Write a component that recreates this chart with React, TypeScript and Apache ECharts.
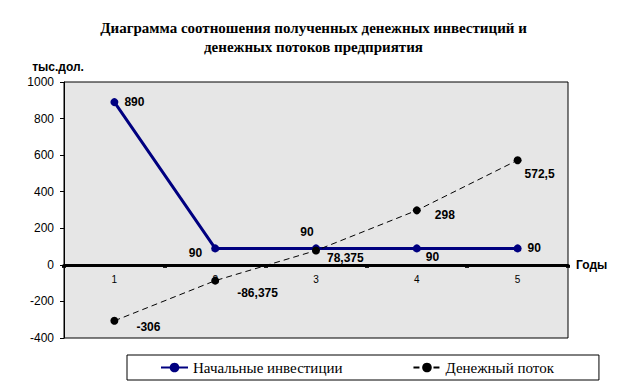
import React, { useEffect, useRef } from "react";
import * as echarts from "echarts";

const titleLines = [
  "Диаграмма соотношения полученных денежных инвестиций и",
  "денежных потоков предприятия",
];
const years = ["1", "2", "3", "4", "5"];
const investName = "Начальные инвестиции";
const investValues = [890, 90, 90, 90, 90];
const flowName = "Денежный поток";
const flowValues = [-306, -86.375, 78.375, 298, 572.5];
const yUnit = "тыс.дол.";
const xUnit = "Годы";

// label placement per point (style only)
const investLabelPos: any[] = [
  { position: "right", distance: 6, offset: [0, 0] },
  { position: "left", distance: 9, offset: [0, 5] },
  { position: "top", distance: 6, offset: [-9, 0] },
  { position: "right", distance: 5, offset: [0, 9] },
  { position: "right", distance: 6, offset: [0, 0] },
];
const flowLabelPos: any[] = [
  { position: "right", distance: 18, offset: [0, 6] },
  { position: "right", distance: 18, offset: [0, 12] },
  { position: "right", distance: 7, offset: [0, 7] },
  { position: "right", distance: 14, offset: [0, 5] },
  { position: "bottom", distance: 4, offset: [22, 0] },
];

const fmt = (v: number) => String(v).replace(".", ",");

const SANS = "'Liberation Sans', Arial, sans-serif";
const SERIF = "'Liberation Serif', 'Times New Roman', serif";

const labelStyle = {
  show: true,
  color: "#000",
  fontFamily: SANS,
  fontWeight: "bold" as const,
  fontSize: 12,
};

export default function App() {
  const ref = useRef<HTMLDivElement>(null);
  useEffect(() => {
    if (!ref.current) return;
    const chart = echarts.init(ref.current, null, { renderer: "svg" });
    chart.setOption({
      animation: false,
      backgroundColor: "#ffffff",
      title: {
        text: titleLines.join("\n"),
        left: "center",
        top: 13,
        textStyle: {
          fontFamily: SERIF,
          fontWeight: "bold",
          fontSize: 15,
          lineHeight: 19,
          color: "#000",
        },
      },
      legend: {
        left: 127,
        top: 355,
        padding: [5, 45, 5, 33],
        itemGap: 70,
        itemWidth: 27,
        itemHeight: 12,
        borderColor: "#000",
        borderWidth: 1,
        backgroundColor: "#fff",
        textStyle: {
          fontFamily: SERIF,
          fontSize: 15,
          color: "#000",
        },
        data: [investName, flowName],
      },
      grid: {
        left: 64,
        right: 59,
        top: 82,
        bottom: 47,
        show: true,
        backgroundColor: "#e6e6e6",
        borderColor: "#000",
        borderWidth: 1,
      },
      graphic: [
        {
          type: "text",
          x: 58,
          y: 67,
          style: {
            text: yUnit,
            fontFamily: SANS,
            fontWeight: "bold",
            fontSize: 12,
            fill: "#000",
            align: "center",
            verticalAlign: "middle",
          },
        },
      ],
      xAxis: {
        type: "category",
        data: years,
        boundaryGap: true,
        name: xUnit,
        nameLocation: "end",
        nameGap: 8,
        nameTextStyle: {
          fontFamily: SANS,
          fontWeight: "bold",
          fontSize: 12,
          color: "#000",
          verticalAlign: "middle",
        },
        axisLine: { onZero: true, lineStyle: { color: "#000", width: 3 } },
        axisTick: { show: true, length: 3, lineStyle: { color: "#000", width: 4 } },
        axisLabel: {
          margin: -64,
          fontFamily: SANS,
          fontSize: 10,
          color: "#000",
        },
        splitLine: { show: false },
      },
      yAxis: {
        type: "value",
        min: -400,
        max: 1000,
        interval: 200,
        axisLine: { show: true, lineStyle: { color: "#000", width: 1 } },
        axisTick: { show: true, length: 4, lineStyle: { color: "#000" } },
        axisLabel: {
          margin: 10,
          fontFamily: SANS,
          fontSize: 12,
          color: "#000",
          formatter: (v: number) => String(v),
        },
        splitLine: { show: false },
      },
      series: [
        {
          name: investName,
          type: "line",
          symbol: "circle",
          symbolSize: 8,
          color: "#000080",
          lineStyle: { color: "#000080", width: 3 },
          itemStyle: { color: "#000080" },
          data: investValues.map((v, i) => ({
            value: v,
            label: { ...labelStyle, ...investLabelPos[i], formatter: () => fmt(v) },
          })),
          z: 3,
        },
        {
          name: flowName,
          type: "line",
          symbol: "circle",
          symbolSize: 8,
          color: "#000",
          lineStyle: { color: "#000", width: 1, type: [6, 4] },
          itemStyle: { color: "#000" },
          data: flowValues.map((v, i) => ({
            value: v,
            label: { ...labelStyle, ...flowLabelPos[i], formatter: () => fmt(v) },
          })),
          z: 4,
        },
      ],
    });
    return () => chart.dispose();
  }, []);
  return (
    <div
      ref={ref}
      style={{ position: "absolute", left: 0, top: 0, width: 627, height: 385 }}
    />
  );
}
